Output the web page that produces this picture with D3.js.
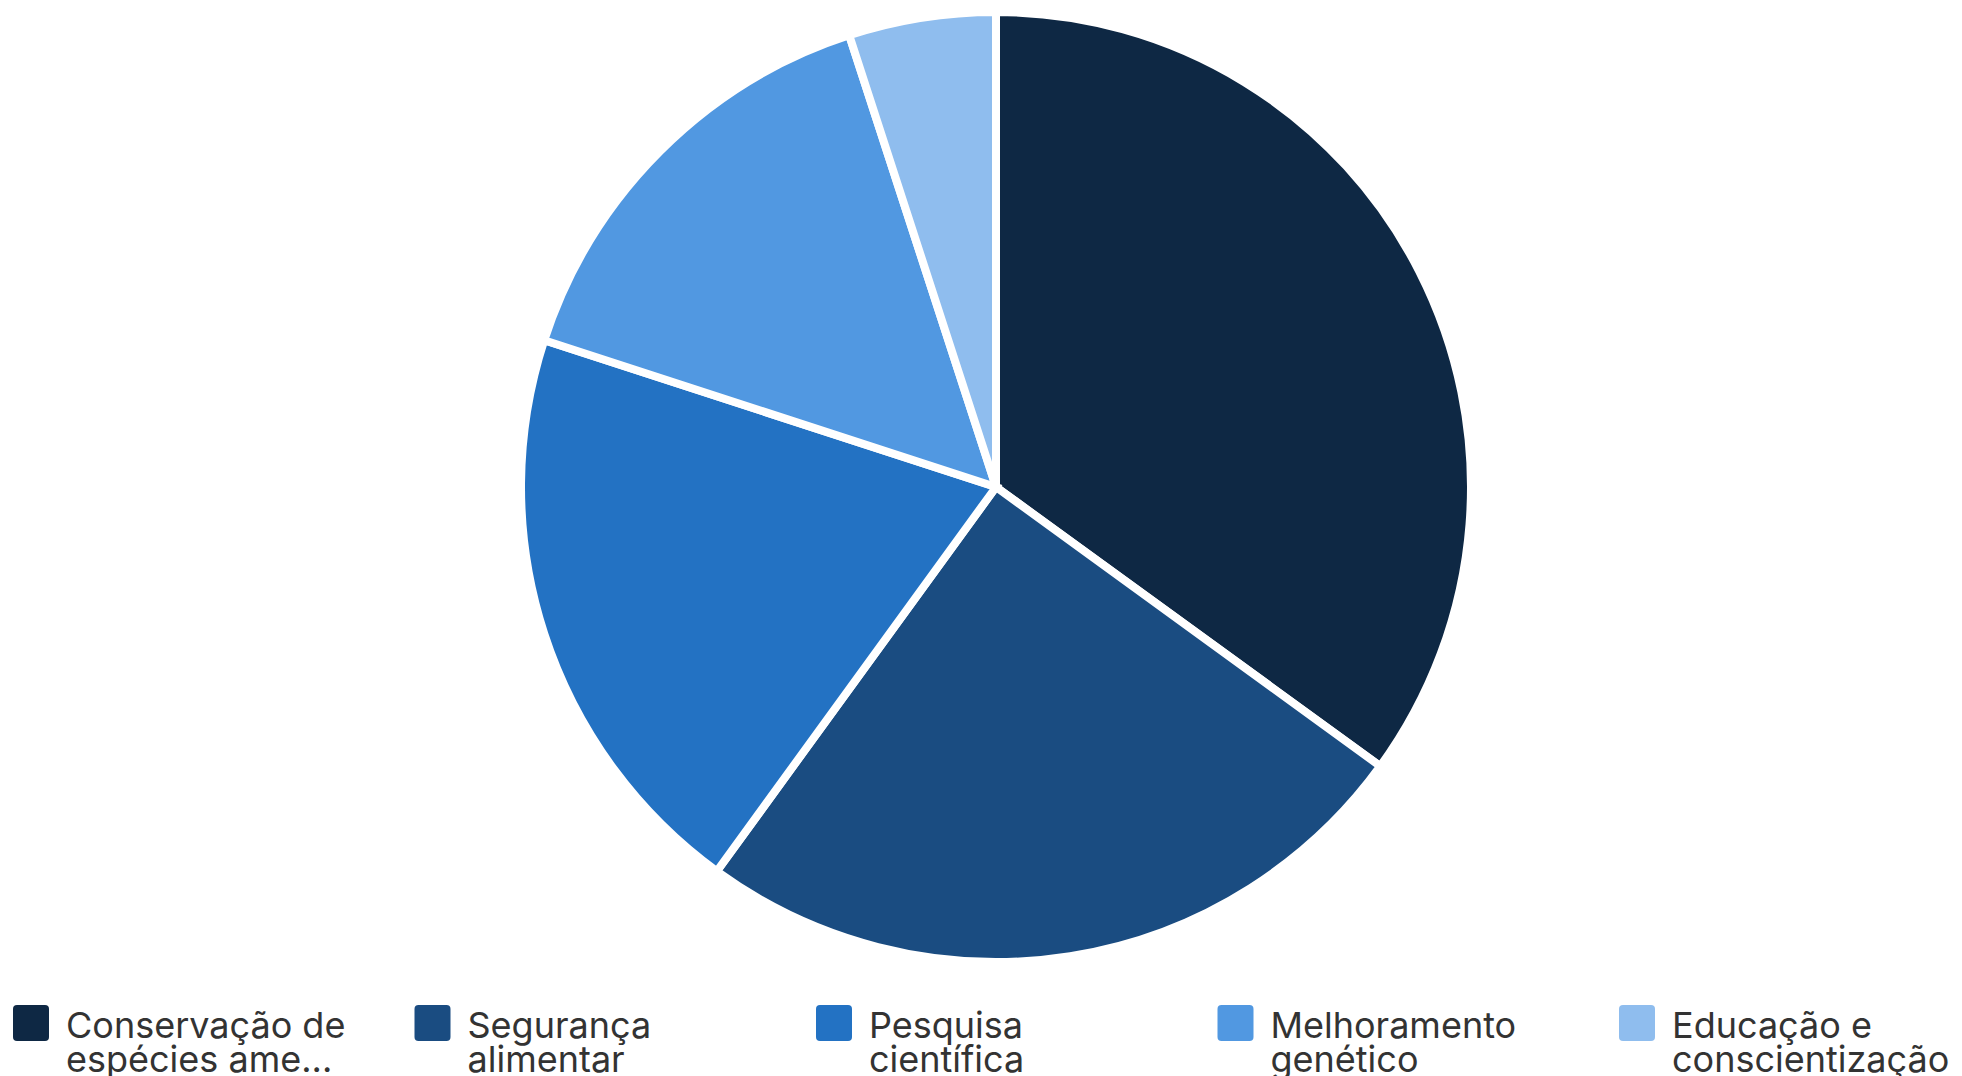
<!DOCTYPE html>
<html>
<head>
<meta charset="utf-8">
<script src="https://cdn.jsdelivr.net/npm/d3@7"></script>
<style>
  html, body { margin: 0; padding: 0; background: #ffffff; overflow: hidden; }
  svg { display: block; }
</style>
</head>
<body>
<svg id="chart" width="1962" height="1076"></svg>
<script>
const categories = [
  "Conservação de espécies ameaçadas",
  "Segurança alimentar",
  "Pesquisa científica",
  "Melhoramento genético",
  "Educação e conscientização"
];
const values = [35, 25, 20, 15, 5];
const colors = ["#0e2844", "#1a4c81", "#2372c3", "#5198e1", "#8fbdee"];

const W = 1962, H = 1076;
const cx = 996, cy = 487, R = 475;

const svg = d3.select("#chart");

const pie = d3.pie().sort(null).value(d => d.value);
const arc = d3.arc().innerRadius(0).outerRadius(R);
const data = categories.map((c, i) => ({ name: c, value: values[i], color: colors[i] }));

svg.append("g")
  .attr("transform", `translate(${cx},${cy})`)
  .selectAll("path")
  .data(pie(data))
  .join("path")
  .attr("d", arc)
  .attr("fill", d => d.data.color)
  .attr("stroke", "#ffffff")
  .attr("stroke-width", 8)
  .attr("stroke-linejoin", "miter");

// Legend
const legendX = d3.scaleLinear().domain([0, categories.length]).range([13, 13 + 401.5 * categories.length]);
const fontSize = 36;
const maxTextW = 290;
const truncW = 282;
const legend = svg.append("g").attr("font-family", "Inter, 'Noto Sans', sans-serif")
  .attr("font-size", fontSize).attr("fill", "#333333");

data.forEach((d, i) => {
  const x = legendX(i);
  const g = legend.append("g").attr("transform", `translate(${x},1005)`);
  g.append("rect").attr("width", 36).attr("height", 36).attr("rx", 4).attr("fill", d.color);
  const t = g.append("text");
  const words = d.name.split(" ");
  const lines = [];
  let cur = "";
  const measure = g.append("text").attr("visibility", "hidden");
  const w = s => { measure.text(s); return measure.node().getComputedTextLength(); };
  words.forEach(word => {
    const test = cur ? cur + " " + word : word;
    if (w(test) > maxTextW && cur) { lines.push(cur); cur = word; }
    else cur = test;
  });
  if (cur) lines.push(cur);
  let out = lines.slice(0, 2);
  if (lines.length > 2) {
    let s = lines.slice(1).join(" ");
    while (w(s + "...") > truncW && s.length > 1) s = s.slice(0, -1);
    out[1] = s.trim() + "...";
  }
  measure.remove();
  out.forEach((line, k) => {
    t.append("tspan").attr("x", 53).attr("y", 33 + k * 34).text(line);
  });
});
</script>
</body>
</html>
